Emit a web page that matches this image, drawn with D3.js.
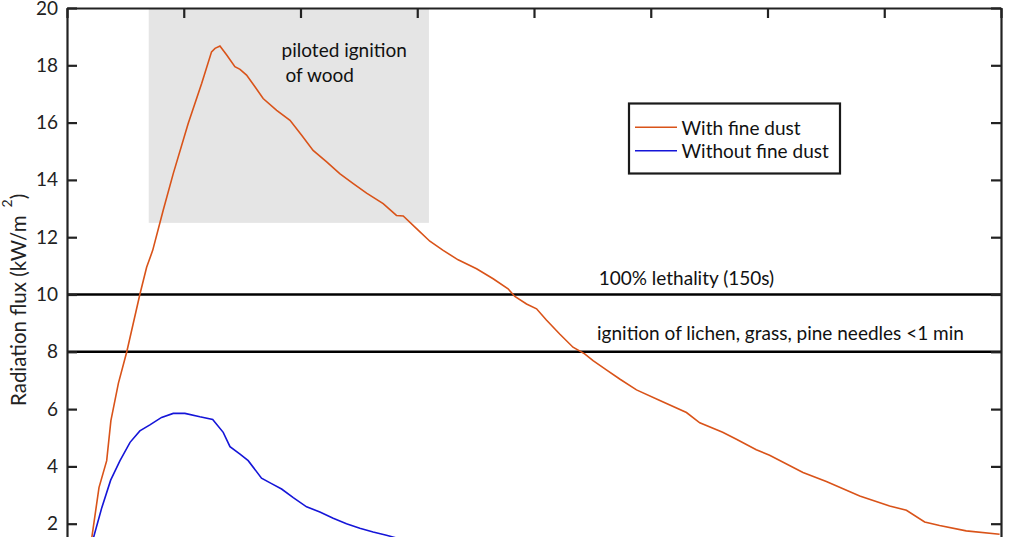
<!DOCTYPE html>
<html><head><meta charset="utf-8">
<script src="https://cdn.jsdelivr.net/npm/d3@7"></script>
<style>
html,body{margin:0;padding:0;background:#fff;overflow:hidden;}
svg{display:block;font-family:Lato,"Open Sans",sans-serif;}
</style></head>
<body><svg id="c" width="1024" height="537"></svg>
<script>
// time (s) and radiation flux (kW/m^2)
const dustT = [7.7,10.6,13.7,17.0,18.8,22.0,25.6,31.2,34.1,36.7,41.2,45.5,51.9,57.7,61.9,63.4,65.5,68.4,71.9,74.1,76.9,80.5,84.0,89.8,95.5,100.5,105.4,111.2,116.8,122.6,128.3,135.4,141.1,144.0,149.7,155.4,161.1,167.5,175.4,182.5,188.9,191.8,196.8,201.1,205.3,211.0,216.7,221.7,225.3,231.0,236.7,243.9,253.9,265.3,271.0,280.8,286.7,295.2,300.9,315.2,325.2,339.5,352.3,359.5,367.3,373.7,385.1,399.4];
const dustV = [0,1.5,3.26,4.2,5.6,6.9,8.0,10.0,10.95,11.54,12.94,14.22,15.97,17.37,18.47,18.59,18.67,18.36,17.95,17.86,17.66,17.25,16.84,16.43,16.08,15.56,15.03,14.63,14.22,13.87,13.54,13.17,12.76,12.74,12.3,11.86,11.54,11.21,10.9,10.55,10.2,9.93,9.67,9.5,9.11,8.62,8.16,7.93,7.69,7.37,7.05,6.67,6.3,5.88,5.52,5.19,4.95,4.58,4.39,3.79,3.47,2.97,2.62,2.47,2.06,1.94,1.75,1.63];
const cleanT = [8.1,11.3,14.9,18.7,22.7,27.0,31.2,35.5,40.5,45.5,50.5,56.9,62.4,66.9,69.8,74.1,77.6,83.3,87.6,91.9,96.9,102.6,108.3,114.0,119.7,125.4,131.1,136.8,141.1,155.4];
const cleanV = [0,1.5,2.56,3.52,4.2,4.84,5.24,5.45,5.71,5.85,5.85,5.73,5.64,5.19,4.69,4.43,4.2,3.59,3.4,3.21,2.91,2.59,2.41,2.19,2.0,1.84,1.71,1.6,1.5,1.35];
const seriesNames = ["With fine dust","Without fine dust"];
const yTicks = [2,4,6,8,10,12,14,16,18,20];
const xTicks = [0,50,100,150,200,250,300,350,400];
const thresholds = [10,8];
const thresholdLabels = ["100% lethality (150s)","ignition of lichen, grass, pine needles <1 min"];
const woodBox = {t0:35,t1:155,v0:12.5,v1:20};
const woodLabel = ["piloted ignition","of wood"];

const svg = d3.select("#c");
const L=67,R=1001,T=8,B=581;
const x = d3.scaleLinear().domain([0,400]).range([L,R]);
const y = d3.scaleLinear().domain([0,20]).range([B,T]);
const ORANGE="#d95319", BLUE="#1515d8", AX="#222";
const FS=19;

svg.append("rect").attr("x",x(woodBox.t0)).attr("y",y(woodBox.v1))
  .attr("width",x(woodBox.t1)-x(woodBox.t0)).attr("height",y(woodBox.v0)-y(woodBox.v1))
  .attr("fill","#e5e5e5");

const g = svg.append("g").attr("font-size",FS).attr("fill","#111");
g.append("text").attr("x",x(91.9)).attr("y",y(18.28)).text(woodLabel[0]);
g.append("text").attr("x",x(93.6)).attr("y",y(17.43)).text(woodLabel[1]);

thresholds.forEach(v=>{
  svg.append("line").attr("x1",L).attr("x2",R).attr("y1",y(v)).attr("y2",y(v))
    .attr("stroke","#000").attr("stroke-width",2.6);
});
g.append("text").attr("x",x(227.7)).attr("y",y(10.33)).text(thresholdLabels[0]);
g.append("text").attr("x",x(227)).attr("y",y(8.41)).text(thresholdLabels[1]);

const line = d3.line().x(d=>x(d[0])).y(d=>y(d[1]));
svg.append("path").datum(dustT.map((t,i)=>[t,dustV[i]])).attr("d",line)
  .attr("fill","none").attr("stroke",ORANGE).attr("stroke-width",1.6);
svg.append("path").datum(cleanT.map((t,i)=>[t,cleanV[i]])).attr("d",line)
  .attr("fill","none").attr("stroke",BLUE).attr("stroke-width",1.6);

// axes
function styleAxis(sel){
  sel.select(".domain").attr("stroke",AX).attr("stroke-width",2.2);
  sel.selectAll(".tick line").attr("stroke",AX).attr("stroke-width",2.2);
  sel.selectAll(".tick text").attr("fill","#222").attr("font-size",FS).attr("font-family","Lato, sans-serif");
}
svg.append("g").attr("transform",`translate(${L},0)`)
  .call(d3.axisLeft(y).tickValues(yTicks).tickSize(-10).tickSizeOuter(0).tickPadding(9))
  .call(styleAxis);
svg.append("g").attr("transform",`translate(${R},0)`)
  .call(d3.axisRight(y).tickValues(yTicks).tickSize(-10).tickSizeOuter(0).tickFormat(""))
  .call(styleAxis);
svg.append("g").attr("transform",`translate(0,${T})`)
  .call(d3.axisTop(x).tickValues(xTicks).tickSize(-10).tickSizeOuter(0).tickFormat(""))
  .call(styleAxis);

// y label
const yl = svg.append("text").attr("transform",`translate(26,406) rotate(-90)`)
  .attr("text-anchor","start").attr("font-size",20.5).attr("fill","#222");
yl.append("tspan").text("Radiation flux (kW/m");
yl.append("tspan").attr("dx",8).attr("dy",-14).attr("font-size",14).text("2");
yl.append("tspan").attr("dy",14).text(")");

// legend
const lg = svg.append("g");
lg.append("rect").attr("x",629).attr("y",103.5).attr("width",211).attr("height",70)
  .attr("fill","#fff").attr("stroke","#1a1a1a").attr("stroke-width",2.2);
[ORANGE,BLUE].forEach((c,i)=>{
  const yy = 127.3 + i*23.4;
  lg.append("line").attr("x1",635).attr("x2",677).attr("y1",yy).attr("y2",yy).attr("stroke",c).attr("stroke-width",1.6);
  lg.append("text").attr("x",681.5).attr("y",yy+7.5).attr("font-size",FS).attr("fill","#111").text(seriesNames[i]);
});
</script></body></html>
